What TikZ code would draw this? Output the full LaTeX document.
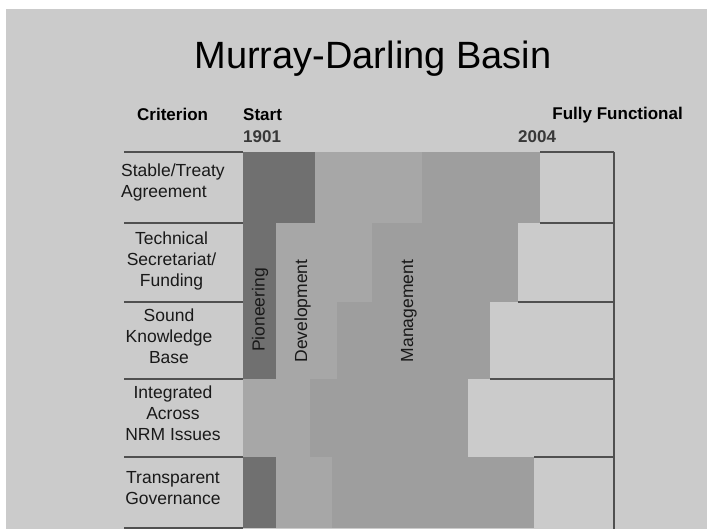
\documentclass[tikz,border=0pt]{standalone}
\usepackage{fontspec}
\setmainfont{Liberation Sans}
\definecolor{slide}{HTML}{CBCBCB}
\definecolor{pioneerfill}{HTML}{707070}
\definecolor{develfill}{HTML}{A7A7A7}
\definecolor{managefill}{HTML}{9E9E9E}
\definecolor{rule}{HTML}{505050}
\definecolor{yeargray}{HTML}{383838}
\tikzset{
        pioneer/.style={fill=pioneerfill},
        devel/.style={fill=develfill},
        manage/.style={fill=managefill},
        rowline/.style={draw=rule, line width=1.1pt},
        heading/.style={inner sep=0pt, font=\fontsize{17}{20}\selectfont\bfseries},
        yearlabel/.style={heading, text=yeargray},
        criterion/.style={inner sep=0pt, align=center, text=black!90, font=\fontsize{17.5}{21}\selectfont},
        phase/.style={inner sep=0pt, rotate=90, text=black!90, font=\fontsize{17.5}{21}\selectfont}
          }
\begin{document}
\begin{tikzpicture}[x=1pt,y=-1pt]
        \useasboundingbox (0,0) rectangle (707,529);
        \fill[white] (0,0) rectangle (707,529);
        \fill[slide] (6,9) rectangle (707,529);

        % phase bands, one row per criterion: top/bottom/pioneering end/development end/management end
        \foreach \t/\b/\p/\d/\m in {152/223/315/422/540, 223/302/276/372/518, 302/379/276/337/490,
                                    379/457/243/310/468, 457/528/276/332/534}{
          \fill[pioneer] (243,\t) rectangle (\p,\b);
          \fill[devel] (\p,\t) rectangle (\d,\b);
          \fill[manage] (\d,\t) rectangle (\m,\b);
        }

        % criterion rules and the fully functional boxes
        \foreach \y in {152,223,302,379,457,528}
          \draw[rowline] (124,\y) -- (243,\y);
        \draw[rowline] (540,152) -- (614,152);
        \draw[rowline] (540,223) -- (614,223);
        \draw[rowline] (518,302) -- (614,302);
        \draw[rowline] (490,379) -- (614,379);
        \draw[rowline] (534,457) -- (614,457);
        \draw[rowline] (614,152) -- (614,529);

        \node[inner sep=0pt, anchor=base, font=\fontsize{38}{44}\selectfont] (title) at (373,69) {Murray-Darling Basin};
        \node[heading, anchor=base west] (criterion) at (137,121) {Criterion};
        \node[heading, anchor=base west] (start) at (243,121) {Start};
        \node[yearlabel, anchor=base west] (first) at (243,143) {1901};
        \node[heading, anchor=base east] (full) at (683,120) {Fully Functional};
        \node[yearlabel, anchor=base west] (last) at (518,143) {2004};

        \node[criterion, align=left, anchor=north west] (c1) at (121,164) {Stable/Treaty\\Agreement};
        \node[criterion, anchor=north] (c2) at (171.5,232) {Technical\\Secretariat/\\Funding};
        \node[criterion, anchor=north] (c3) at (169,309) {Sound\\Knowledge\\Base};
        \node[criterion, anchor=north] (c4) at (173,386) {Integrated\\Across\\NRM Issues};
        \node[criterion, anchor=north] (c5) at (173,471) {Transparent\\Governance};

        \node[phase] (pioneering) at (260,310) {Pioneering};
        \node[phase] (development) at (302.5,311) {Development};
        \node[phase] (management) at (409,311) {Management};
      \end{tikzpicture}
\end{document}
